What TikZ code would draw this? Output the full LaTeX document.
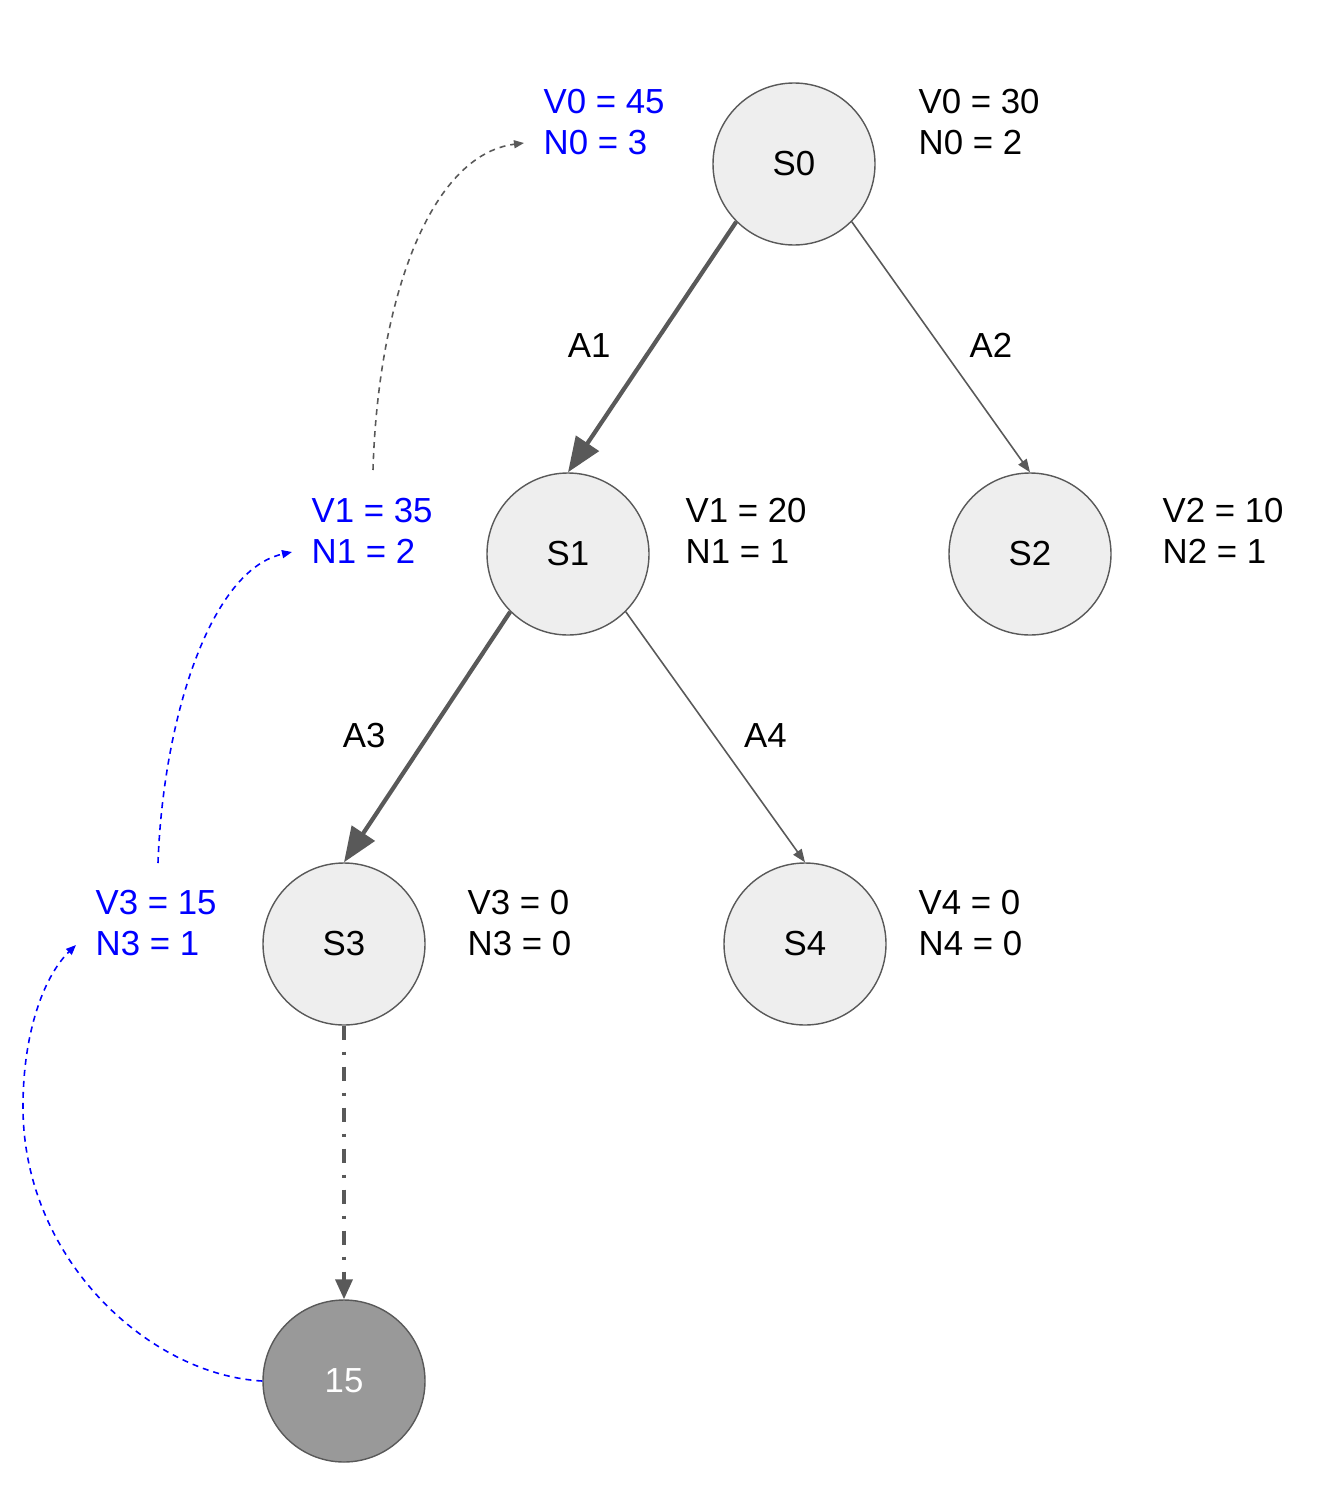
\documentclass[tikz,border=0pt]{standalone}
\usepackage{fontspec}
\setmainfont{Liberation Sans}
\usepackage{xcolor}
\usepackage{tikz}
\usetikzlibrary{arrows.meta}

\definecolor{edgegray}{HTML}{595959}
\definecolor{nodefill}{HTML}{EEEEEE}
\definecolor{leafgray}{HTML}{999999}
\definecolor{backblue}{HTML}{0000FF}

\begin{document}
\begin{tikzpicture}[every node/.style={font=\fontsize{9.9}{11.7}\selectfont},
    state/.style={circle, draw=edgegray, line width=0.4pt, fill=nodefill, minimum size=1.62cm, inner sep=0pt},
    leaf/.style={state, fill=leafgray, text=white},
    stat/.style={anchor=north west, inner sep=0pt, align=left},
    backup/.style={stat, text=backblue},
    chosen/.style={draw=edgegray, line width=1.2pt, -{Triangle[length=0.35cm, width=0.27cm]}},
    other/.style={draw=edgegray, line width=0.45pt, -{Triangle[length=0.13cm, width=0.1cm]}},
    rollout/.style={draw=edgegray, line width=1.05pt, dash pattern=on 0.14cm off 0.12cm on 0.03cm off 0.12cm, -{Triangle[length=0.2cm, width=0.17cm]}},
    update/.style={line width=0.45pt, dash pattern=on 0.06cm off 0.05cm, -{Triangle[length=0.1cm, width=0.08cm]}}]
       \useasboundingbox (0, 0) rectangle (13.26, -15.04);

       % tree
       \node [state] (s0) at (7.94, -1.64) {S0};
       \node [state] (s1) at (5.68, -5.54) {S1};
       \node [state] (s2) at (10.30, -5.54) {S2};
       \node [state] (s3) at (3.44, -9.44) {S3};
       \node [state] (s4) at (8.05, -9.44) {S4};
       \node [leaf] (term) at (3.44, -13.81) {15};

       % values before backup
       \node [stat] (v0) at (9.18, -0.88) {V0 = 30\\N0 = 2};
       \node [stat] (v1) at (6.85, -4.97) {V1 = 20\\N1 = 1};
       \node [stat] (v2) at (11.62, -4.97) {V2 = 10\\N2 = 1};
       \node [stat] (v3) at (4.67, -8.89) {V3 = 0\\N3 = 0};
       \node [stat] (v4) at (9.18, -8.89) {V4 = 0\\N4 = 0};

       % values after backup
       \node [backup] (b0) at (5.43, -0.88) {V0 = 45\\N0 = 3};
       \node [backup] (b1) at (3.11, -4.97) {V1 = 35\\N1 = 2};
       \node [backup] (b3) at (0.95, -8.89) {V3 = 15\\N3 = 1};

       % actions
       \draw [chosen] (s0.south west) -- (s1.north) node (a1) [pos=.5, xshift=-.63cm, yshift=.02cm, text=black] {A1};
       \draw [other] (s0.south east) -- (s2.north) node (a2) [pos=.5, xshift=.5cm, yshift=.02cm, text=black] {A2};
       \draw [chosen] (s1.south west) -- (s3.north) node (a3) [pos=.5, xshift=-.63cm, yshift=.02cm, text=black] {A3};
       \draw [other] (s1.south east) -- (s4.north) node (a4) [pos=.5, xshift=.5cm, yshift=.02cm, text=black] {A4};

       % simulation
       \draw [rollout] (s3.south) -- (term.north);

       % backup path
       \coordinate (u3a) at (0.23, -11.07);
       \coordinate (u3b) at (0.76, -9.45);
       \coordinate (u1a) at (1.58, -8.63);
       \coordinate (u1b) at (2.92, -5.52);
       \coordinate (u0a) at (3.73, -4.70);
       \coordinate (u0b) at (5.24, -1.43);
       \draw [update, backblue] (term.west) .. controls (1.50, -13.75) and (0.23, -12.60) .. (u3a)
             .. controls (0.23, -10.30) and (0.45, -9.75) .. (u3b);
       \draw [update, backblue] (u1a) .. controls (1.63, -7.20) and (2.10, -5.70) .. (u1b);
       \draw [update, edgegray] (u0a) .. controls (3.78, -3.00) and (4.30, -1.55) .. (u0b);
\end{tikzpicture}
\end{document}
